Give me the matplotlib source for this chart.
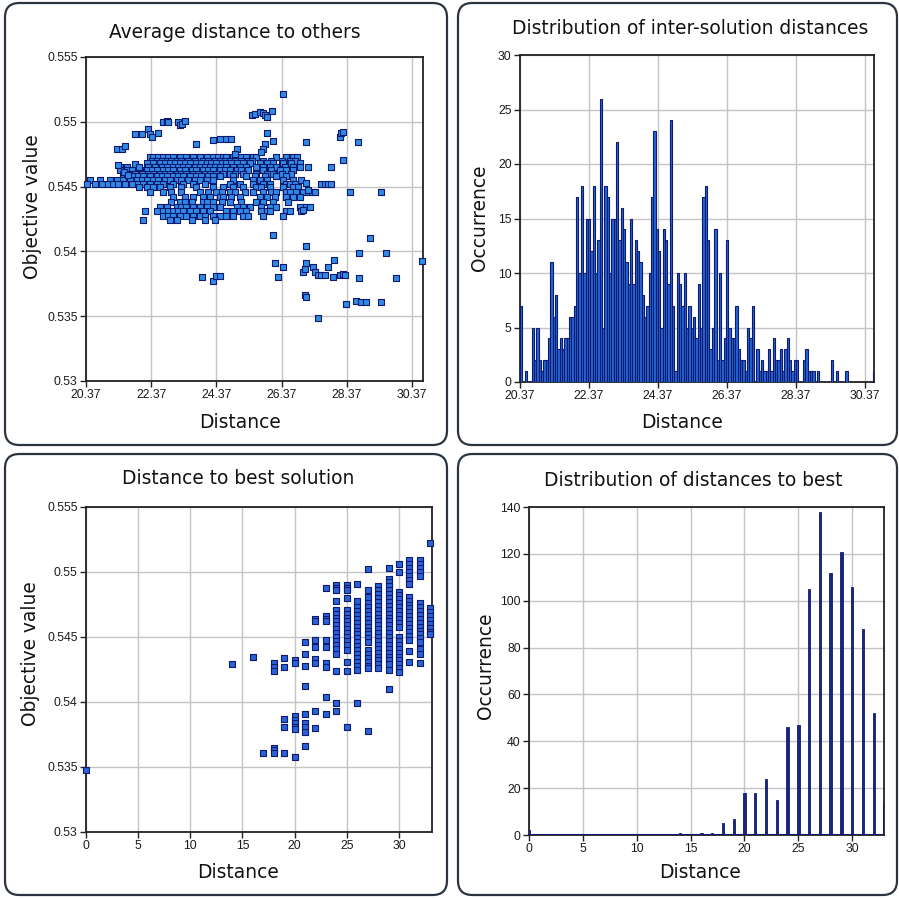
import matplotlib
matplotlib.use("Agg")
import matplotlib.pyplot as plt
from matplotlib.patches import FancyBboxPatch
from matplotlib.ticker import FormatStrFormatter
import numpy as np

W, H = 899, 898

# ---------------- data ----------------
# Top-left: average distance to others (rows of equal objective value)
avg_rows = {
    0.5473: [22.33,22.43,22.59,22.74,22.89,23.05,23.25,23.45,23.66,23.86,24.07,24.27,24.43,24.58,24.68,24.89,25.09,25.29,25.50,25.60,26.21,26.52,26.72,26.83],
    0.5470: [22.38,22.54,22.69,22.84,22.99,23.15,23.30,23.51,23.71,23.97,24.12,24.32,24.48,24.63,24.78,24.94,25.14,25.34,25.45,25.80,26.06,26.37,26.62,26.77],
    0.5468: [22.23,22.43,22.64,22.79,22.94,23.10,23.25,23.40,23.56,23.76,23.91,24.07,24.22,24.37,24.53,24.68,24.83,24.99,25.19,25.40,25.70,25.91,26.11,26.42,26.67,26.93],
    0.5465: [21.41,21.62,21.92,22.28,22.48,22.69,22.84,23.05,23.20,23.35,23.51,23.71,23.86,24.02,24.17,24.32,24.48,24.68,24.89,25.09,25.29,25.60,25.80,26.01,26.21,26.47,26.72,26.93,27.18],
    0.5463: [21.41,21.62,21.77,22.02,22.23,22.38,22.54,22.74,22.89,23.05,23.25,23.40,23.61,23.76,23.97,24.12,24.27,24.48,24.63,24.78,24.99,25.14,25.34,25.80,26.06,26.32,26.52,26.72],
    0.5460: [21.51,21.72,21.87,22.08,22.28,22.43,22.64,22.79,22.94,23.15,23.30,23.45,23.66,23.81,24.02,24.17,24.37,24.58,24.78,24.94,25.19,25.60,25.91,26.11,26.37,26.67],
    0.5458: [21.62,21.82,21.97,22.13,22.33,22.54,22.69,22.84,23.05,23.20,23.35,23.56,23.76,23.91,24.12,24.27,24.48,24.89,25.29,25.55,25.86,26.21,26.52],
    0.5455: [20.49,20.80,21.11,21.31,21.51,21.72,21.92,22.08,22.23,22.43,22.59,22.79,22.94,23.15,23.30,23.51,23.71,23.86,24.07,24.27,24.89,25.50,25.70,25.91,26.42,26.72,26.98],
    0.5452: [20.41,20.65,20.85,21.05,21.21,21.36,21.57,21.77,21.97,22.13,22.33,22.54,22.74,23.05,23.35,23.66,24.02,24.78,25.09,25.50,25.80,26.01,26.52,26.62,26.77,27.59,27.69,27.80,27.90],
    0.5450: [22.00,22.23,22.43,22.64,22.94,23.30,23.76,24.27,24.58,24.89,25.19,25.60,25.75,26.01,26.42,26.72,26.88],
    0.5446: [22.33,22.74,22.99,23.30,23.86,24.12,24.37,24.53,24.78,24.94,25.24,25.50,25.80,26.06,26.21,26.52,26.62,26.81,27.03,27.18,27.29,27.39,28.46,29.43],
    0.5442: [23.05,23.40,23.66,23.97,24.17,24.48,24.58,24.83,25.09,25.70,25.91,26.16,26.52,26.72,26.93],
    0.5438: [22.99,23.25,23.40,23.61,23.97,24.07,24.27,24.53,24.78,25.14,25.60,25.80,26.11,26.57],
    0.5434: [22.64,22.84,23.15,23.30,23.45,23.66,23.86,24.07,24.27,24.48,24.99,25.19,25.40,25.75,26.01,26.21,26.93,27.11,27.23],
    0.5431: [22.18,22.54,22.74,22.89,23.05,23.20,23.35,23.56,23.76,23.97,24.17,24.68,24.89,25.09,25.29,25.75,25.91,26.01,26.52,26.62,26.98],
    0.5427: [22.74,22.89,23.05,23.25,23.45,23.66,23.86,24.02,24.27,24.48,24.68,24.89,25.19,25.34,25.80,26.42],
    0.5424: [22.13,22.94,23.15,23.61,24.02,24.32],
}
avg_extra_x = [21.36,21.53,21.67,21.87,22.00,21.31,21.46,21.57,21.87,22.08,22.28,22.33,22.41,22.59,
               22.74,22.84,22.89,23.20,23.25,23.33,23.40,23.76,24.27,24.48,24.68,24.83,24.99,24.94,
               25.45,25.55,25.70,25.80,25.86,25.91,26.09,26.42,25.91,26.11,25.86,25.80,25.75,27.13,
               28.15,28.20,28.25,28.72,28.25,27.90,27.03,27.13,27.18,
               26.11,26.16,26.42,26.26,23.94,24.27,24.37,24.48,27.11,27.03,27.08,27.11,27.08,27.13,
               27.34,27.39,27.49,27.59,27.69,27.80,27.98,27.95,28.15,28.25,28.31,27.49,28.36,28.66,
               28.82,28.95,28.75,28.75,29.09,29.43,29.58,29.87,30.69]
avg_extra_y = [0.54665,0.54614,0.54588,0.54678,0.54652,0.54793,0.54793,0.54811,0.54909,0.54909,0.54948,0.54909,0.54883,0.54914,
               0.54999,0.55007,0.54999,0.54999,0.54973,0.54986,0.55004,0.54832,0.54858,0.54871,0.54871,0.54871,0.54793,0.54755,
               0.55050,0.55063,0.55076,0.55068,0.55050,0.55038,0.55081,0.55217,0.54914,0.54853,0.54832,0.54793,0.54768,0.54845,
               0.54883,0.54914,0.54922,0.54845,0.54709,0.54652,0.54318,0.54524,0.54472,
               0.54125,0.53907,0.53881,0.53804,0.53804,0.53773,0.53809,0.53809,0.54041,0.53843,0.53861,0.53907,0.53663,0.53650,
               0.53881,0.53843,0.53817,0.53817,0.53817,0.53881,0.53933,0.53804,0.53817,0.53825,0.53817,0.53483,0.53594,0.53617,
               0.53611,0.53611,0.53989,0.53791,0.54107,0.53611,0.53989,0.53791,0.53925]

# Top-right: histogram of inter-solution distances
inter_start = 20.37
inter_width = 0.0678
inter_counts = [7,0,1,0,0,5,2,5,2,1,
                2,2,4,11,6,8,3,4,3,4,
                4,6,6,7,17,10,18,10,15,15,
                12,18,10,13,26,5,18,17,10,15,
                15,22,13,16,14,11,9,15,9,13,
                12,11,8,6,7,10,17,23,14,12,
                5,14,13,9,24,7,1,10,9,7,
                10,5,7,5,6,4,9,5,17,18,
                13,3,5,14,2,10,2,4,13,5,
                4,4,7,3,2,2,1,5,4,7,
                0,3,1,2,1,1,3,1,4,2,
                2,3,1,3,4,2,1,2,2,0,
                0,2,3,1,1,1,0,1,0,0,
                0,0,0,2,0,1,0,0,0,1,
                0,0,0,0,0,0,0,0,0,0,0,1]

# Bottom-left: distance to best solution (columns of objective values)
best_cols = {
    0: [0.5348],
    14: [0.5429],
    16: [0.5435],
    17: [0.5361],
    18: [0.5430,0.5427,0.5424,0.5365,0.5363,0.5361],
    19: [0.5434,0.5427,0.5387,0.5381,0.5361],
    20: [0.5432,0.5430,0.5389,0.5386,0.5384,0.5381,0.5379,0.5358],
    21: [0.5446,0.5437,0.5428,0.5412,0.5391,0.5384,0.5381,0.5377,0.5366],
    22: [0.5464,0.5462,0.5448,0.5442,0.5433,0.5430,0.5393,0.5380],
    23: [0.5488,0.5466,0.5464,0.5462,0.5448,0.5442,0.5430,0.5427,0.5404,0.5391],
    24: [0.5490,0.5488,0.5486,0.5478,0.5471,0.5468,0.5465,0.5462,0.5459,0.5456,0.5453,0.5450,0.5447,0.5444,0.5441,0.5437,0.5424,0.5399,0.5393],
    25: [0.5490,0.5488,0.5486,0.5480,0.5471,0.5468,0.5465,0.5462,0.5459,0.5456,0.5453,0.5450,0.5447,0.5444,0.5440,0.5431,0.5424,0.5381],
    26: [0.5491,0.5478,0.5473,0.5470,0.5467,0.5464,0.5461,0.5458,0.5455,0.5452,0.5449,0.5446,0.5443,0.5440,0.5437,0.5434,0.5431,0.5428,0.5425,0.5399],
    27: [0.5502,0.5486,0.5481,0.5476,0.5473,0.5470,0.5467,0.5464,0.5461,0.5458,0.5455,0.5452,0.5449,0.5446,0.5440,0.5437,0.5434,0.5431,0.5428,0.5426,0.5378],
    28: [0.5489,0.5486,0.5483,0.5480,0.5477,0.5474,0.5471,0.5468,0.5465,0.5462,0.5459,0.5456,0.5453,0.5450,0.5447,0.5444,0.5441,0.5438,0.5435,0.5432,0.5429,0.5426],
    29: [0.5503,0.5495,0.5492,0.5489,0.5486,0.5483,0.5480,0.5477,0.5474,0.5471,0.5468,0.5465,0.5462,0.5459,0.5456,0.5453,0.5450,0.5447,0.5444,0.5441,0.5438,0.5435,0.5432,0.5429,0.5425,0.5410],
    30: [0.5506,0.5500,0.5485,0.5482,0.5479,0.5476,0.5473,0.5470,0.5467,0.5464,0.5461,0.5458,0.5450,0.5447,0.5444,0.5441,0.5438,0.5435,0.5432,0.5429,0.5426,0.5423],
    31: [0.5509,0.5506,0.5503,0.5500,0.5497,0.5494,0.5491,0.5481,0.5478,0.5475,0.5472,0.5469,0.5466,0.5463,0.5460,0.5457,0.5454,0.5451,0.5448,0.5439,0.5431],
    32: [0.5509,0.5506,0.5503,0.5500,0.5497,0.5476,0.5473,0.5470,0.5467,0.5464,0.5461,0.5458,0.5455,0.5452,0.5449,0.5446,0.5441,0.5437,0.5430],
    33: [0.5522,0.5472,0.5469,0.5466,0.5463,0.5460,0.5457,0.5454,0.5452],
}

# Bottom-right: histogram of distances to best
best_dist = list(range(0, 34))
best_counts = [2,0,0,0,0,0,0,0,0,0,0,0,0,0,1,0,1,1,5,7,18,18,24,15,46,47,105,138,112,121,106,88,52,14]

avg_xticks = [20.37, 22.37, 24.37, 26.37, 28.37, 30.37]
obj_yticks = [0.53, 0.535, 0.54, 0.545, 0.55, 0.555]
occ1_yticks = [0, 5, 10, 15, 20, 25, 30]
occ2_yticks = [0, 20, 40, 60, 80, 100, 120, 140]
best_xticks = [0, 5, 10, 15, 20, 25, 30]

# ---------------- figure ----------------
fig = plt.figure(figsize=(W / 100, H / 100), dpi=100)
fig.patch.set_facecolor("white")

NAVY = "#0e1a6e"


def frac_rect(l, t, r, b):
    return [l / W, 1 - b / H, (r - l) / W, (b - t) / H]


def frame(l, t, r, b):
    p = FancyBboxPatch((l / W, 1 - b / H), (r - l) / W, (b - t) / H,
                       boxstyle="round,pad=0,rounding_size=0.016",
                       transform=fig.transFigure, facecolor="white",
                       edgecolor="#2b3440", linewidth=1.6, zorder=-5)
    fig.patches.append(p)


def txt(x, y, s, rot=0, size=13.4):
    fig.text(x / W, 1 - y / H, s, ha="center", va="center", rotation=rot,
             fontsize=size, family="DejaVu Sans", color="#111111", zorder=5)


def style(ax):
    ax.set_zorder(2)
    ax.grid(True, color="#c4c4c4", linewidth=1.0)
    ax.set_axisbelow(True)
    for s in ax.spines.values():
        s.set_color("#222222")
        s.set_linewidth(1.3)
    ax.tick_params(direction="out", length=4, width=1, color="#222222", pad=2)
    for lab in ax.get_xticklabels() + ax.get_yticklabels():
        lab.set_fontfamily("Liberation Sans")
        lab.set_fontsize(8.8)
        lab.set_color("#1a1a1a")


frame(5, 3, 447, 445)
frame(458, 3, 897, 445)
frame(5, 454, 447, 895)
frame(458, 454, 897, 895)

# Top-left scatter
ax1 = fig.add_axes(frac_rect(86, 57, 423, 381))
xs, ys = [], []
for yv, row in avg_rows.items():
    xs += row
    ys += [yv] * len(row)
xs += avg_extra_x
ys += avg_extra_y
ax1.scatter(xs, ys, marker="s", s=22, facecolor="#2f8ae6", edgecolor=NAVY,
            linewidth=0.8, zorder=3, clip_on=False)
ax1.set_xlim(20.37, 30.71)
ax1.set_ylim(0.53, 0.555)
ax1.set_xticks(avg_xticks)
ax1.set_yticks(obj_yticks)
ax1.yaxis.set_major_formatter(FormatStrFormatter("%g"))
ax1.xaxis.set_major_formatter(FormatStrFormatter("%.2f"))
style(ax1)
txt(235, 33, "Average distance to others")
txt(33, 207, "Objective value", rot=90)
txt(240, 422, "Distance")

# Top-right histogram
ax2 = fig.add_axes(frac_rect(520, 55, 874, 382))
lefts = [inter_start + i * inter_width for i in range(len(inter_counts))]
ax2.bar(lefts, inter_counts, width=inter_width, align="edge",
        color="#2466d6", edgecolor=NAVY, linewidth=0.8, zorder=3)
ax2.set_xlim(20.37, 30.63)
ax2.set_ylim(0, 30)
ax2.set_xticks(avg_xticks)
ax2.set_yticks(occ1_yticks)
ax2.xaxis.set_major_formatter(FormatStrFormatter("%.2f"))
style(ax2)
txt(690, 29, "Distribution of inter-solution distances")
txt(479, 218, "Occurrence", rot=90)
txt(682, 422, "Distance")

# Bottom-left scatter
ax3 = fig.add_axes(frac_rect(86, 507, 432, 832))
bx, by = [], []
for xv, col in best_cols.items():
    bx += [xv] * len(col)
    by += col
ax3.scatter(bx, by, marker="s", s=20, facecolor="#2a62d8", edgecolor=NAVY,
            linewidth=0.8, zorder=3, clip_on=False)
ax3.set_xlim(0, 33.17)
ax3.set_ylim(0.53, 0.555)
ax3.set_xticks(best_xticks)
ax3.set_yticks(obj_yticks)
ax3.yaxis.set_major_formatter(FormatStrFormatter("%g"))
style(ax3)
txt(238, 479, "Distance to best solution")
txt(31, 654, "Objective value", rot=90)
txt(238, 873, "Distance")

# Bottom-right histogram
ax4 = fig.add_axes(frac_rect(529, 507, 884, 835))
ax4.bar(best_dist, best_counts, width=0.22, color="#1a2580",
        edgecolor=NAVY, linewidth=0.6, zorder=3)
ax4.axhline(0, color=NAVY, linewidth=2.2, zorder=4)
ax4.set_xlim(0, 32.95)
ax4.set_ylim(0, 140)
ax4.set_xticks(best_xticks)
ax4.set_yticks(occ2_yticks)
style(ax4)
txt(693, 480, "Distribution of distances to best")
txt(485, 666, "Occurrence", rot=90)
txt(700, 873, "Distance")

fig.savefig("out.png", dpi=100, facecolor="white")
